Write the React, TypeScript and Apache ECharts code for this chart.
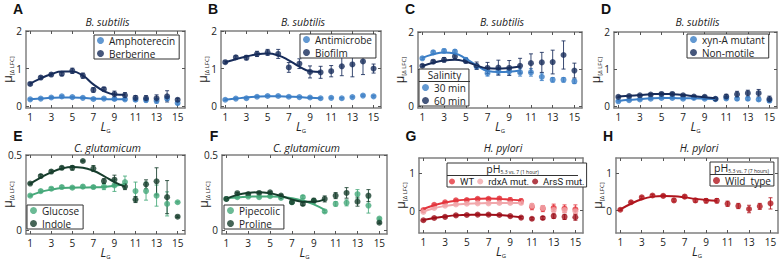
import React, { useEffect, useRef } from "react";
import * as echarts from "echarts";

// ---------------- data ----------------
const LG = [1, 2, 3, 4, 5, 6, 7, 8, 9, 10, 11, 12, 13, 14, 15];
const FIT_LG = [1, 2, 3, 4, 5, 6, 7, 8, 9, 10];
const X_TICKS = [1, 3, 5, 7, 9, 11, 13, 15];

// A
const amphoterecin = [0.18, 0.2, 0.23, 0.26, 0.24, 0.22, 0.19, 0.2, 0.19, 0.18, 0.17, 0.16, 0.14, 0.2, 0.08];
const amphoterecinErr = [0.02, 0.02, 0.02, 0.02, 0.02, 0.02, 0.02, 0.02, 0.03, 0.03, 0.04, 0.05, 0.06, 0.05, 0.03];
const amphoterecinFit = [0.18, 0.2, 0.22, 0.23, 0.23, 0.22, 0.2, 0.19, 0.18, 0.18];
const berberine = [0.59, 0.76, 0.84, 0.86, 0.94, 0.81, 0.43, 0.45, 0.32, 0.29, 0.22, 0.21, 0.21, 0.26, 0.17];
const berberineErr = [0.03, 0.04, 0.04, 0.05, 0.07, 0.07, 0.06, 0.05, 0.08, 0.07, 0.06, 0.07, 0.09, 0.15, 0.04];
const berberineFit = [0.6, 0.74, 0.85, 0.92, 0.92, 0.81, 0.58, 0.4, 0.31, 0.3];
// B
const antimicrobe = [0.17, 0.2, 0.21, 0.25, 0.27, 0.27, 0.25, 0.24, 0.23, 0.21, 0.22, 0.21, 0.24, 0.28, 0.26];
const antimicrobeErr = [0.02, 0.02, 0.02, 0.02, 0.02, 0.02, 0.02, 0.02, 0.02, 0.02, 0.02, 0.02, 0.02, 0.02, 0.02];
const antimicrobeFit = [0.17, 0.2, 0.23, 0.25, 0.26, 0.26, 0.25, 0.24, 0.22, 0.21];
const biofilm = [1.17, 1.3, 1.29, 1.39, 1.43, 1.39, 1.03, 1.13, 0.91, 0.9, 0.93, 1.06, 1.11, 1.19, 1.0];
const biofilmErr = [0.03, 0.04, 0.06, 0.07, 0.08, 0.12, 0.13, 0.13, 0.16, 0.16, 0.15, 0.25, 0.33, 0.35, 0.12];
const biofilmFit = [1.17, 1.25, 1.32, 1.38, 1.4, 1.35, 1.22, 1.05, 0.93, 0.91];
// C
const min30 = [1.29, 1.45, 1.49, 1.47, 1.25, 1.07, 0.89, 0.94, 0.94, 0.91, 0.91, 0.79, 0.71, 0.71, 0.67];
const min30Err = [0.03, 0.04, 0.05, 0.05, 0.06, 0.06, 0.08, 0.1, 0.1, 0.1, 0.1, 0.1, 0.06, 0.06, 0.06];
const min30Fit = [1.3, 1.4, 1.45, 1.42, 1.28, 1.1, 0.95, 0.92, 0.93, 0.96];
const min60 = [1.09, 1.2, 1.25, 1.34, 1.22, 1.09, 1.03, 1.04, 1.03, 1.09, 1.16, 1.18, 1.19, 1.38, 0.96];
const min60Err = [0.03, 0.04, 0.06, 0.06, 0.06, 0.1, 0.15, 0.2, 0.2, 0.2, 0.25, 0.27, 0.32, 0.38, 0.2];
const min60Fit = [1.08, 1.17, 1.23, 1.25, 1.2, 1.1, 1.02, 1.01, 1.03, 1.07];
// D
const xynA = [0.13, 0.16, 0.18, 0.2, 0.22, 0.22, 0.2, 0.22, 0.2, 0.19, 0.21, 0.2, 0.2, 0.18, 0.15];
const xynAErr = [0.02, 0.02, 0.02, 0.02, 0.02, 0.02, 0.02, 0.02, 0.02, 0.02, 0.04, 0.04, 0.04, 0.04, 0.04];
const xynAFit = [0.14, 0.17, 0.19, 0.21, 0.22, 0.22, 0.21, 0.21, 0.2, 0.19];
const nonMotile = [0.25, 0.27, 0.29, 0.31, 0.33, 0.33, 0.29, 0.26, 0.25, 0.2, 0.26, 0.32, 0.35, 0.35, 0.19];
const nonMotileErr = [0.02, 0.02, 0.02, 0.03, 0.03, 0.03, 0.03, 0.03, 0.03, 0.02, 0.06, 0.08, 0.08, 0.1, 0.08];
const nonMotileFit = [0.26, 0.28, 0.3, 0.32, 0.33, 0.32, 0.3, 0.27, 0.24, 0.21];
// E
const glucose = [0.23, 0.26, 0.276, 0.287, 0.283, 0.29, 0.287, 0.29, 0.298, 0.32, 0.26, 0.26, 0.23, 0.175, 0.186];
const glucoseErr = [0.005, 0.008, 0.008, 0.008, 0.008, 0.01, 0.01, 0.02, 0.04, 0.04, 0.06, 0.06, 0.07, 0.08, 0.005];
const glucoseFit = [0.23, 0.255, 0.27, 0.28, 0.283, 0.284, 0.285, 0.288, 0.295, 0.305];
const indole = [0.31, 0.36, 0.39, 0.415, 0.415, 0.46, 0.41, 0.327, 0.336, 0.29, 0.204, 0.305, 0.325, 0.22, 0.09];
const indoleErr = [0.005, 0.01, 0.01, 0.01, 0.015, 0.005, 0.02, 0.015, 0.03, 0.02, 0.02, 0.03, 0.09, 0.11, 0.005];
const indoleFit = [0.31, 0.35, 0.385, 0.41, 0.42, 0.415, 0.395, 0.36, 0.32, 0.29];
// F
const pipecolic = [0.208, 0.22, 0.224, 0.22, 0.226, 0.215, 0.186, 0.22, 0.193, 0.125, 0.175, 0.182, 0.24, 0.164, 0.077];
const pipecolicErr = [0.005, 0.005, 0.005, 0.005, 0.005, 0.008, 0.008, 0.01, 0.01, 0.008, 0.015, 0.02, 0.03, 0.05, 0.005];
const pipecolicFit = [0.213, 0.218, 0.222, 0.225, 0.225, 0.222, 0.213, 0.197, 0.172, 0.135];
const proline = [0.208, 0.246, 0.24, 0.248, 0.252, 0.23, 0.186, 0.175, 0.197, 0.208, 0.23, 0.248, 0.19, 0.23, 0.05];
const prolineErr = [0.005, 0.005, 0.005, 0.005, 0.005, 0.008, 0.01, 0.01, 0.015, 0.02, 0.02, 0.035, 0.03, 0.04, 0.005];
const prolineFit = [0.21, 0.235, 0.248, 0.252, 0.245, 0.228, 0.205, 0.19, 0.19, 0.205];
// G
const wt = [0.01, 0.15, 0.22, 0.27, 0.28, 0.31, 0.31, 0.32, 0.28, 0.25, 0.1, 0.05, 0.07, 0.05, 0.03];
const wtErr = [0.02, 0.02, 0.02, 0.03, 0.03, 0.03, 0.03, 0.04, 0.06, 0.06, 0.08, 0.08, 0.1, 0.1, 0.12];
const wtFit = [0.04, 0.14, 0.21, 0.26, 0.29, 0.31, 0.32, 0.31, 0.29, 0.27];
const rdxA = [-0.04, 0.07, 0.13, 0.16, 0.18, 0.19, 0.19, 0.2, 0.2, 0.2, 0.13, 0.07, 0.01, 0.01, -0.02];
const rdxAErr = [0.02, 0.02, 0.02, 0.02, 0.02, 0.02, 0.02, 0.03, 0.03, 0.04, 0.04, 0.05, 0.05, 0.05, 0.05];
const rdxAFit = [-0.03, 0.06, 0.12, 0.16, 0.18, 0.19, 0.2, 0.2, 0.2, 0.2];
const arsS = [-0.26, -0.2, -0.17, -0.13, -0.12, -0.11, -0.11, -0.12, -0.15, -0.19, -0.22, -0.2, -0.15, -0.17, -0.18];
const arsSErr = [0.02, 0.02, 0.02, 0.02, 0.02, 0.02, 0.02, 0.02, 0.02, 0.03, 0.03, 0.04, 0.06, 0.07, 0.08];
const arsSFit = [-0.25, -0.2, -0.16, -0.13, -0.12, -0.11, -0.11, -0.12, -0.15, -0.18];
// H
const wildType = [0.02, 0.22, 0.35, 0.4, 0.39, 0.27, 0.37, 0.27, 0.26, 0.26, 0.18, 0.12, 0.04, 0.11, 0.19];
const wildTypeErr = [0.02, 0.03, 0.03, 0.03, 0.03, 0.04, 0.04, 0.05, 0.06, 0.06, 0.07, 0.07, 0.1, 0.08, 0.15];
const wildTypeFit = [0.03, 0.18, 0.3, 0.37, 0.39, 0.38, 0.35, 0.31, 0.28, 0.26];

// ---------------- styles ----------------
const FONT = "'Open Sans', 'Noto Sans', sans-serif";
const NARROW = "Roboto, 'Open Sans', sans-serif";
const FRAME = "#808080";
const TICK = "#555";
const TXT = "#222";
const BLUE_L = "#3b7ec6";
const BLUE_D = "#172c5a";
const GREEN_L = "#46a97a";
const GREEN_D = "#163d2c";
const RED_WT = "#e3343c";
const RED_PINK = "#f1a7ab";
const RED_DARK = "#9e0f1a";
const RED_H = "#b0161e";

type DS = { name: string; values: number[]; errors: number[]; fit: number[]; color: string };
type Panel = {
  letter: string;
  title: string;
  box: [number, number, number, number];
  yMin: number;
  yMax: number;
  yTicks: number[];
  sets: DS[];
  legend: any;
};

const PANELS: Panel[] = [
  {
    letter: "A", title: "B. subtilis", box: [26, 31, 159, 77], yMin: -0.05, yMax: 2, yTicks: [0, 1, 2],
    sets: [
      { name: "Amphoterecin", values: amphoterecin, errors: amphoterecinErr, fit: amphoterecinFit, color: BLUE_L },
      { name: "Berberine", values: berberine, errors: berberineErr, fit: berberineFit, color: BLUE_D },
    ],
    legend: { left: 94, top: 35, orient: "vertical" },
  },
  {
    letter: "B", title: "B. subtilis", box: [221, 31, 160, 77], yMin: -0.05, yMax: 2, yTicks: [0, 1, 2],
    sets: [
      { name: "Antimicrobe", values: antimicrobe, errors: antimicrobeErr, fit: antimicrobeFit, color: BLUE_L },
      { name: "Biofilm", values: biofilm, errors: biofilmErr, fit: biofilmFit, color: BLUE_D },
    ],
    legend: { left: 300, top: 34, orient: "vertical" },
  },
  {
    letter: "C", title: "B. subtilis", box: [418, 32, 164, 76], yMin: -0.05, yMax: 2, yTicks: [0, 1, 2],
    sets: [
      { name: "30 min", values: min30, errors: min30Err, fit: min30Fit, color: BLUE_L },
      { name: "60 min", values: min60, errors: min60Err, fit: min60Fit, color: BLUE_D },
    ],
    legend: { left: 419, top: 69, orient: "vertical", header: "Salinity", headerWidth: 51 },
  },
  {
    letter: "D", title: "B. subtilis", box: [614, 32, 163, 76], yMin: -0.05, yMax: 2, yTicks: [0, 1, 2],
    sets: [
      { name: "xyn-A mutant", values: xynA, errors: xynAErr, fit: xynAFit, color: BLUE_L },
      { name: "Non-motile", values: nonMotile, errors: nonMotileErr, fit: nonMotileFit, color: BLUE_D },
    ],
    legend: { left: 687, top: 34, orient: "vertical" },
  },
  {
    letter: "E", title: "C. glutamicum", box: [26, 155, 159, 79], yMin: -0.025, yMax: 0.5, yTicks: [0, 0.5],
    sets: [
      { name: "Glucose", values: glucose, errors: glucoseErr, fit: glucoseFit, color: GREEN_L },
      { name: "Indole", values: indole, errors: indoleErr, fit: indoleFit, color: GREEN_D },
    ],
    legend: { left: 27, top: 205, orient: "vertical" },
  },
  {
    letter: "F", title: "C. glutamicum", box: [222, 155, 165, 79], yMin: -0.025, yMax: 0.5, yTicks: [0, 0.5],
    sets: [
      { name: "Pipecolic", values: pipecolic, errors: pipecolicErr, fit: pipecolicFit, color: GREEN_L },
      { name: "Proline", values: proline, errors: prolineErr, fit: prolineFit, color: GREEN_D },
    ],
    legend: { left: 224, top: 205, orient: "vertical" },
  },
  {
    letter: "G", title: "H. pylori", box: [419, 158, 164, 75], yMin: -0.6, yMax: 1.4, yTicks: [0, 1],
    sets: [
      { name: "WT", values: wt, errors: wtErr, fit: wtFit, color: RED_WT },
      { name: "rdxA mut.", values: rdxA, errors: rdxAErr, fit: rdxAFit, color: RED_PINK },
      { name: "ArsS mut.", values: arsS, errors: arsSErr, fit: arsSFit, color: RED_DARK },
    ],
    legend: { left: 447, top: 163, orient: "horizontal", header: "pH", sub: "5.3 vs. 7 (1 hour)", headerWidth: 131, small: true },
  },
  {
    letter: "H", title: "H. pylori", box: [616, 158, 162, 75], yMin: -0.6, yMax: 1.4, yTicks: [0, 1],
    sets: [
      { name: "Wild  type", values: wildType, errors: wildTypeErr, fit: wildTypeFit, color: RED_H },
    ],
    legend: { left: 710, top: 162, orient: "horizontal", header: "pH", sub: "5.3 vs. 7 (7 hours)", headerWidth: 63 },
  },
];

function buildOption() {
  const grid: any[] = [];
  const xAxis: any[] = [];
  const yAxis: any[] = [];
  const series: any[] = [];
  const legend: any[] = [];
  const graphic: any[] = [];

  PANELS.forEach((p, i) => {
    const [gl, gt, gw, gh] = p.box;
    grid.push({ left: gl, top: gt, width: gw, height: gh, containLabel: false, outerBoundsMode: "none" });

    const frame = { show: true, onZero: false, lineStyle: { color: FRAME, width: 1.5 } };
    const xBase = {
      type: "value", gridIndex: i, min: 0.6, max: 15.7, splitLine: { show: false }, axisLine: frame,
      axisTick: { show: true, inside: true, length: 3, customValues: X_TICKS, lineStyle: { color: TICK, width: 1 } },
    };
    const xi = xAxis.length;
    xAxis.push({
      ...xBase, position: "bottom",
      axisLabel: { customValues: X_TICKS, fontSize: 10, color: TXT, margin: 4, fontFamily: FONT },
      name: "{l|L}{g|G}", nameLocation: "middle", nameGap: 11, nameMoveOverlap: false,
      nameTextStyle: {
        rich: {
          l: { fontStyle: "italic", fontSize: 12, fontFamily: FONT, color: TXT, lineHeight: 15 },
          g: { fontSize: 6, fontFamily: FONT, color: TXT, verticalAlign: "bottom", lineHeight: 8 },
        },
      },
    });
    xAxis.push({ ...xBase, position: "top", axisLabel: { show: false } });

    const yBase = {
      type: "value", gridIndex: i, min: p.yMin, max: p.yMax, splitLine: { show: false }, axisLine: frame,
      axisTick: { show: true, inside: true, length: 3, customValues: p.yTicks, lineStyle: { color: TICK, width: 1 } },
    };
    const yi = yAxis.length;
    yAxis.push({
      ...yBase, position: "left",
      axisLabel: { customValues: p.yTicks, fontSize: 10, color: TXT, margin: 4, fontFamily: FONT },
      name: "{m|μ}{s|[Δ LFC]}", nameLocation: "middle", nameRotate: 90, nameGap: 11, nameMoveOverlap: false,
      nameTextStyle: {
        rich: {
          m: { fontSize: 12, fontFamily: FONT, color: TXT, lineHeight: 15 },
          s: { fontSize: 6, fontFamily: FONT, color: TXT, verticalAlign: "bottom", lineHeight: 8 },
        },
      },
    });
    yAxis.push({ ...yBase, position: "right", axisLabel: { show: false } });

    p.sets.forEach((ds) => {
      series.push({
        type: "custom",
        name: ds.name + " error",
        xAxisIndex: xi,
        yAxisIndex: yi,
        silent: true,
        encode: { x: 0, y: 1 },
        data: LG.map((x, k) => [x, ds.values[k], ds.errors[k]]),
        renderItem: (params: any, api: any) => {
          const x = api.value(0);
          const y = api.value(1);
          const e = api.value(2);
          const top = api.coord([x, y + e]);
          const bot = api.coord([x, y - e]);
          const st = { stroke: ds.color, lineWidth: 1, opacity: 0.85 };
          return {
            type: "group",
            children: [
              { type: "line", shape: { x1: top[0], y1: top[1], x2: bot[0], y2: bot[1] }, style: st },
              { type: "line", shape: { x1: top[0] - 2, y1: top[1], x2: top[0] + 2, y2: top[1] }, style: st },
              { type: "line", shape: { x1: bot[0] - 2, y1: bot[1], x2: bot[0] + 2, y2: bot[1] }, style: st },
            ],
          };
        },
      });
      series.push({
        type: "line",
        name: ds.name + " fit",
        xAxisIndex: xi,
        yAxisIndex: yi,
        data: FIT_LG.map((x, k) => [x, ds.fit[k]]),
        smooth: 0.5,
        symbol: "none",
        silent: true,
        lineStyle: { color: ds.color, width: 2 },
      });
      series.push({
        type: "scatter",
        name: ds.name,
        xAxisIndex: xi,
        yAxisIndex: yi,
        data: LG.map((x, k) => [x, ds.values[k]]),
        symbol: "circle",
        symbolSize: 6,
        itemStyle: { color: ds.color },
      });
    });

    const L = p.legend;
    const small = !!L.small;
    const vertical = L.orient === "vertical";
    legend.push({
      left: L.left,
      top: L.top,
      orient: L.orient,
      data: p.sets.map((s) => s.name),
      icon: "circle",
      itemWidth: small ? 6 : 7,
      itemHeight: small ? 6 : 7,
      itemGap: vertical ? 2 : small ? 3 : 4,
      padding: L.header ? [13, small ? 2 : 3, 0, small ? 2 : 3] : [0, 4, 0, 3],
      borderColor: "#333",
      borderWidth: 1,
      backgroundColor: "#fff",
      selectedMode: false,
      textStyle: {
        fontSize: small ? 9.5 : 10,
        fontFamily: small ? NARROW : FONT,
        color: TXT,
        lineHeight: 11,
      },
    });
    if (L.header) {
      const cx = L.left + L.headerWidth / 2;
      graphic.push({
        type: "text",
        x: cx,
        y: L.top + 6,
        z: 100,
        style: {
          text: L.sub ? `{a|${L.header}}{b|${L.sub}}` : L.header,
          align: "center",
          verticalAlign: "middle",
          fontSize: 10,
          fontFamily: FONT,
          fill: TXT,
          lineHeight: 11,
          rich: {
            a: { fontSize: 10.5, fontFamily: FONT, fill: TXT, lineHeight: 11 },
            b: { fontSize: 5, fontFamily: FONT, fill: TXT, verticalAlign: "bottom", lineHeight: 6 },
          },
        },
      });
      graphic.push({
        type: "line",
        z: 100,
        shape: { x1: L.left, y1: L.top + 12.5, x2: L.left + L.headerWidth, y2: L.top + 12.5 },
        style: { stroke: "#333", lineWidth: 1 },
      });
    }

    const row2 = gt > 100;
    graphic.push({
      type: "text",
      x: gl - 8,
      y: row2 ? 136 : 8.5,
      style: {
        text: p.letter, align: "center", verticalAlign: "middle",
        fontSize: 14, fontWeight: "bold", fontFamily: "'Liberation Sans', Arial, sans-serif", fill: "#111",
      },
    });
    graphic.push({
      type: "text",
      x: gl + gw / 2 + 2,
      y: row2 ? 147.5 : 21.5,
      style: {
        text: p.title, align: "center", verticalAlign: "middle",
        fontSize: 10.5, fontStyle: "italic", fontFamily: FONT, fill: TXT,
      },
    });
  });

  return { animation: false, backgroundColor: "#fff", grid, xAxis, yAxis, series, legend, graphic };
}

export default function App() {
  const ref = useRef<HTMLDivElement>(null);
  useEffect(() => {
    const chart = echarts.init(ref.current as HTMLDivElement, null, { renderer: "svg" });
    chart.setOption(buildOption() as any);
    return () => chart.dispose();
  }, []);
  return (
    <div
      ref={ref}
      style={{ position: "fixed", left: 0, top: 0, width: 780, height: 265, background: "#fff" }}
    />
  );
}
